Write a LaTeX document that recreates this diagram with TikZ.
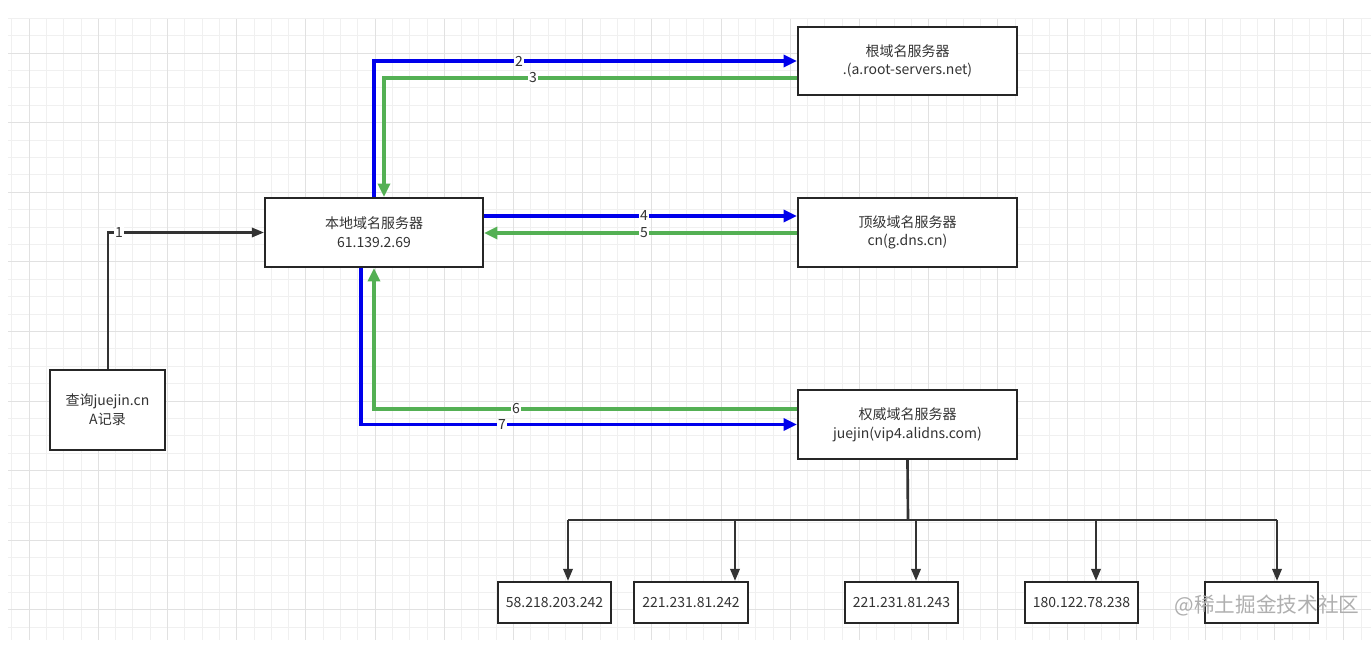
\documentclass[tikz,border=0pt]{standalone}
\usepackage{fontspec}
\setmainfont{Noto Sans CJK SC}
\usetikzlibrary{arrows.meta,calc}
\definecolor{gminor}{RGB}{240,240,240}
\definecolor{gmajor}{RGB}{225,225,225}
\definecolor{ablue}{RGB}{0,0,235}
\definecolor{agreen}{RGB}{84,176,84}
\definecolor{txt}{RGB}{51,51,51}
\definecolor{wm}{RGB}{175,175,175}
\tikzset{
  box/.style={draw=black!85, line width=1.6pt, fill=white, text=txt, align=center, font=\fontsize{10.5}{14}\selectfont, inner sep=0pt},
  bluearr/.style={draw=ablue, line width=2.8pt, -{Triangle[length=10pt,width=9pt]}},
  greenarr/.style={draw=agreen, line width=2.8pt, -{Triangle[length=10pt,width=9pt]}},
  blackarr/.style={draw=black!80, line width=1.7pt, -{Triangle[length=9pt,width=7pt]}},
  lbl/.style={fill=white, text=txt, inner sep=0.6pt, font=\fontsize{10.5}{12}\selectfont},
}
\begin{document}
\begin{tikzpicture}[x=0.75pt,y=-0.75pt]
\useasboundingbox (0,0) rectangle (1371,655);
\fill[white] (0,0) rectangle (1371,655);
% grid
\foreach \k in {-1,...,78}{
  \pgfmathsetmacro{\xx}{29+17.3*\k}
  \ifdim\xx pt<1371pt \ifdim\xx pt>8pt
  \draw[gminor, line width=0.6pt] (\xx,19) -- (\xx,640);
  \fi\fi
}
\foreach \k in {-2,...,35}{
  \pgfmathsetmacro{\yy}{53+17.4*\k}
  \ifdim\yy pt<640pt \ifdim\yy pt>18pt
  \draw[gminor, line width=0.6pt] (8,\yy) -- (1371,\yy);
  \fi\fi
}
\foreach \k in {0,...,19}{
  \pgfmathsetmacro{\xx}{29+69.2*\k}
  \ifdim\xx pt<1371pt
  \draw[gmajor, line width=0.7pt] (\xx,19) -- (\xx,640);
  \fi
}
\foreach \k in {0,...,8}{
  \pgfmathsetmacro{\yy}{53+69.6*\k}
  \ifdim\yy pt<640pt
  \draw[gmajor, line width=0.7pt] (8,\yy) -- (1371,\yy);
  \fi
}

% nodes
\node[box, minimum width=86.25pt, minimum height=60pt] (query) at (107.5,410) {查询juejin.cn\\A记录};
\node[box, minimum width=163.5pt, minimum height=51.75pt] (local) at (374,232.5) {本地域名服务器\\61.139.2.69};
\node[box, minimum width=164.25pt, minimum height=51pt] (root) at (907.5,61) {根域名服务器\\.(a.root-servers.net)};
\node[box, minimum width=164.25pt, minimum height=51.75pt] (tld) at (907.5,232.5) {顶级域名服务器\\cn(g.dns.cn)};
\node[box, minimum width=164.25pt, minimum height=51.75pt] (auth) at (907.5,424.5) {权威域名服务器\\juejin(vip4.alidns.com)};

\node[box, minimum width=84.75pt, minimum height=30.75pt] (ip1) at (554.5,602.5) {58.218.203.242};
\node[box, minimum width=85.5pt, minimum height=30.75pt] (ip2) at (691,602.5) {221.231.81.242};
\node[box, minimum width=84.75pt, minimum height=30.75pt] (ip3) at (901.5,602.5) {221.231.81.243};
\node[box, minimum width=84.75pt, minimum height=30.75pt] (ip4) at (1081.5,602.5) {180.122.78.238};
\node[box, minimum width=84.75pt, minimum height=30.75pt] (ip5) at (1261.5,602.5) {};

% connectors
\coordinate (c1) at (108,233);
\draw[blackarr] (query.north -| c1) |- (local.west);
\node[lbl] at (119,233) {1};

\draw[bluearr] (local.north) |- (root.west);
\node[lbl] at (519,61) {2};

\draw[greenarr] ($(root.west)+(0,17)$) -| ($(local.north)+(10,0)$);
\node[lbl] at (533,78) {3};

\draw[bluearr] ($(local.east)+(0,-16.5)$) -- ($(tld.west)+(0,-16.5)$);
\node[lbl] at (644,216) {4};
\draw[greenarr] ($(tld.west)+(0,0.5)$) -- ($(local.east)+(0,0.5)$);
\node[lbl] at (644,233) {5};

\draw[greenarr] ($(auth.west)+(0,-15.5)$) -| (local.south);
\node[lbl] at (516,409) {6};
\draw[bluearr] ($(local.south)+(-13,0)$) |- (auth.west);
\node[lbl] at (502,425) {7};

% tree
\coordinate (bus) at (908,520);
\draw[black!80, line width=2pt] (auth.south) -- (bus);
\draw[black!80, line width=1.7pt] (568,520) -- (1277,520);
\coordinate (t1) at (568,520);
\coordinate (t2) at (735,520);
\coordinate (t3) at (916,520);
\coordinate (t4) at (1096,520);
\coordinate (t5) at (1277,520);
\draw[blackarr] (t1) -- (t1 |- ip1.north);
\draw[blackarr] (t2) -- (t2 |- ip2.north);
\draw[blackarr] (t3) -- (t3 |- ip3.north);
\draw[blackarr] (t4) -- (t4 |- ip4.north);
\draw[blackarr] (t5) -- (t5 |- ip5.north);

% watermark
\node[text=wm, font=\fontsize{15.5}{18}\selectfont, inner sep=0pt] (wmk) at (1267,606) {@稀土掘金技术社区};
\end{tikzpicture}
\end{document}
